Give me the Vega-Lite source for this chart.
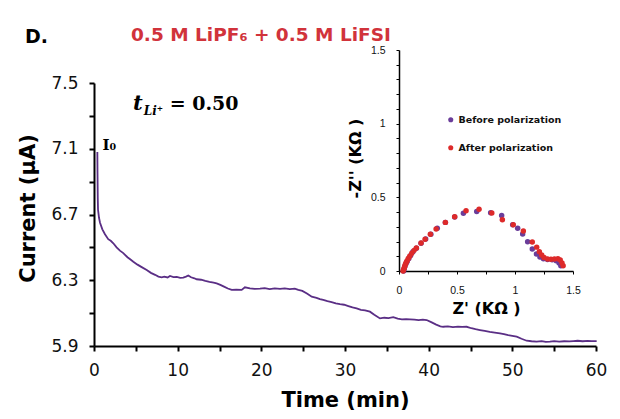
{
 "$schema": "https://vega.github.io/schema/vega-lite/v6.json",
 "width": 502, "height": 263,
 "autosize": "none",
 "padding": {"left": 94, "top": 83, "right": 24, "bottom": 73},
 "background": "white",
 "config": {"view": {"stroke": null}, "axis": {"grid": false, "domainColor": "#000", "tickColor": "#000", "labelColor": "#111", "titleColor": "#000", "labelFlush": false, "labelOverlap": false}},
 "title": {"text": "0.5 M LiPF₆ + 0.5 M LiFSI", "anchor": "start", "frame": "group", "dx": 37, "offset": -31, "color": "#d1333b", "font": "DejaVu Sans", "fontSize": 18.5, "fontWeight": "bold", "baseline": "alphabetic"},
 "datasets": {
  "current": [
   {"time":0.40,"current":7.08},{"time":0.42,"current":6.95},{"time":0.45,"current":6.80},{"time":0.48,"current":6.73},{"time":0.6,"current":6.68},{"time":0.72,"current":6.65},{"time":1.0,"current":6.61},{"time":1.31,"current":6.58},{"time":1.7,"current":6.55},{"time":2.0,"current":6.54},{"time":2.31,"current":6.525},{"time":2.7,"current":6.50},{"time":3.1,"current":6.48},{"time":3.5,"current":6.465},{"time":4.0,"current":6.44},{"time":4.4,"current":6.425},{"time":4.7,"current":6.413},{"time":5.2,"current":6.395},{"time":5.7,"current":6.38},{"time":6.3,"current":6.362},{"time":6.8,"current":6.345},{"time":7.3,"current":6.333},{"time":7.7,"current":6.322},{"time":8.09,"current":6.318},{"time":8.4,"current":6.322},{"time":8.8,"current":6.317},{"time":9.08,"current":6.326},{"time":9.5,"current":6.319},{"time":9.9,"current":6.321},{"time":10.3,"current":6.315},{"time":10.67,"current":6.316},{"time":11.0,"current":6.322},{"time":11.27,"current":6.329},{"time":11.6,"current":6.318},{"time":12.0,"current":6.312},{"time":12.27,"current":6.306},{"time":12.8,"current":6.303},{"time":13.3,"current":6.296},{"time":13.8,"current":6.29},{"time":14.3,"current":6.285},{"time":14.66,"current":6.281},{"time":15.1,"current":6.272},{"time":15.6,"current":6.26},{"time":16.0,"current":6.25},{"time":16.46,"current":6.241},{"time":17.0,"current":6.243},{"time":17.65,"current":6.241},{"time":18.04,"current":6.257},{"time":18.64,"current":6.251},{"time":19.2,"current":6.248},{"time":19.84,"current":6.249},{"time":20.4,"current":6.252},{"time":21.0,"current":6.246},{"time":21.6,"current":6.25},{"time":22.23,"current":6.247},{"time":22.8,"current":6.25},{"time":23.4,"current":6.246},{"time":24.0,"current":6.249},{"time":24.42,"current":6.241},{"time":24.9,"current":6.235},{"time":25.5,"current":6.218},{"time":26.02,"current":6.2},{"time":26.6,"current":6.193},{"time":27.0,"current":6.185},{"time":27.4,"current":6.18},{"time":27.9,"current":6.173},{"time":28.4,"current":6.167},{"time":28.9,"current":6.16},{"time":29.4,"current":6.155},{"time":29.9,"current":6.151},{"time":30.4,"current":6.143},{"time":30.9,"current":6.135},{"time":31.39,"current":6.129},{"time":31.9,"current":6.12},{"time":32.4,"current":6.117},{"time":32.98,"current":6.109},{"time":33.5,"current":6.09},{"time":34.18,"current":6.068},{"time":34.7,"current":6.072},{"time":35.2,"current":6.07},{"time":35.77,"current":6.075},{"time":36.3,"current":6.066},{"time":36.8,"current":6.062},{"time":37.3,"current":6.064},{"time":37.76,"current":6.062},{"time":38.3,"current":6.06},{"time":38.8,"current":6.058},{"time":39.3,"current":6.06},{"time":39.76,"current":6.058},{"time":40.3,"current":6.045},{"time":40.9,"current":6.03},{"time":41.4,"current":6.02},{"time":41.74,"current":6.017},{"time":42.3,"current":6.019},{"time":42.9,"current":6.015},{"time":43.5,"current":6.018},{"time":44.0,"current":6.016},{"time":44.54,"current":6.017},{"time":45.1,"current":6.008},{"time":45.6,"current":6.002},{"time":46.13,"current":5.997},{"time":46.7,"current":5.992},{"time":47.3,"current":5.986},{"time":47.9,"current":5.982},{"time":48.52,"current":5.977},{"time":49.0,"current":5.972},{"time":49.5,"current":5.966},{"time":50.0,"current":5.962},{"time":50.52,"current":5.957},{"time":51.1,"current":5.944},{"time":51.71,"current":5.932},{"time":52.3,"current":5.929},{"time":52.9,"current":5.927},{"time":53.5,"current":5.93},{"time":54.0,"current":5.925},{"time":54.5,"current":5.926},{"time":55.0,"current":5.93},{"time":55.6,"current":5.927},{"time":56.2,"current":5.929},{"time":56.8,"current":5.928},{"time":57.29,"current":5.93},{"time":57.8,"current":5.932},{"time":58.4,"current":5.929},{"time":59.0,"current":5.931},{"time":59.5,"current":5.93},{"time":60.08,"current":5.93}
  ],
  "eis": [
   {"zr":0.04,"zi":0.0,"series":"Before polarization"},{"zr":0.045,"zi":0.015,"series":"Before polarization"},{"zr":0.05,"zi":0.03,"series":"Before polarization"},{"zr":0.06,"zi":0.05,"series":"Before polarization"},{"zr":0.07,"zi":0.065,"series":"Before polarization"},{"zr":0.085,"zi":0.085,"series":"Before polarization"},{"zr":0.10,"zi":0.105,"series":"Before polarization"},{"zr":0.12,"zi":0.13,"series":"Before polarization"},{"zr":0.15,"zi":0.155,"series":"Before polarization"},{"zr":0.19,"zi":0.188,"series":"Before polarization"},{"zr":0.23,"zi":0.217,"series":"Before polarization"},{"zr":0.275,"zi":0.25,"series":"Before polarization"},{"zr":0.33,"zi":0.29,"series":"Before polarization"},{"zr":0.40,"zi":0.33,"series":"Before polarization"},{"zr":0.48,"zi":0.366,"series":"Before polarization"},{"zr":0.555,"zi":0.392,"series":"Before polarization"},{"zr":0.67,"zi":0.404,"series":"Before polarization"},{"zr":0.79,"zi":0.396,"series":"Before polarization"},{"zr":0.885,"zi":0.376,"series":"Before polarization"},{"zr":0.98,"zi":0.314,"series":"Before polarization"},{"zr":1.023,"zi":0.29,"series":"Before polarization"},{"zr":1.066,"zi":0.251,"series":"Before polarization"},{"zr":1.109,"zi":0.199,"series":"Before polarization"},{"zr":1.149,"zi":0.149,"series":"Before polarization"},{"zr":1.185,"zi":0.115,"series":"Before polarization"},{"zr":1.215,"zi":0.095,"series":"Before polarization"},{"zr":1.245,"zi":0.083,"series":"Before polarization"},{"zr":1.28,"zi":0.078,"series":"Before polarization"},{"zr":1.32,"zi":0.076,"series":"Before polarization"},{"zr":1.355,"zi":0.07,"series":"Before polarization"},{"zr":1.38,"zi":0.055,"series":"Before polarization"},{"zr":1.395,"zi":0.035,"series":"Before polarization"},
   {"zr":0.035,"zi":0.0,"series":"After polarization"},{"zr":0.04,"zi":0.01,"series":"After polarization"},{"zr":0.045,"zi":0.02,"series":"After polarization"},{"zr":0.05,"zi":0.032,"series":"After polarization"},{"zr":0.055,"zi":0.045,"series":"After polarization"},{"zr":0.062,"zi":0.057,"series":"After polarization"},{"zr":0.07,"zi":0.07,"series":"After polarization"},{"zr":0.08,"zi":0.085,"series":"After polarization"},{"zr":0.092,"zi":0.1,"series":"After polarization"},{"zr":0.11,"zi":0.12,"series":"After polarization"},{"zr":0.13,"zi":0.14,"series":"After polarization"},{"zr":0.15,"zi":0.156,"series":"After polarization"},{"zr":0.19,"zi":0.19,"series":"After polarization"},{"zr":0.225,"zi":0.215,"series":"After polarization"},{"zr":0.27,"zi":0.25,"series":"After polarization"},{"zr":0.32,"zi":0.285,"series":"After polarization"},{"zr":0.40,"zi":0.33,"series":"After polarization"},{"zr":0.48,"zi":0.368,"series":"After polarization"},{"zr":0.578,"zi":0.409,"series":"After polarization"},{"zr":0.69,"zi":0.419,"series":"After polarization"},{"zr":0.80,"zi":0.394,"series":"After polarization"},{"zr":0.891,"zi":0.348,"series":"After polarization"},{"zr":0.985,"zi":0.314,"series":"After polarization"},{"zr":1.072,"zi":0.272,"series":"After polarization"},{"zr":1.149,"zi":0.197,"series":"After polarization"},{"zr":1.187,"zi":0.162,"series":"After polarization"},{"zr":1.21,"zi":0.13,"series":"After polarization"},{"zr":1.23,"zi":0.108,"series":"After polarization"},{"zr":1.25,"zi":0.092,"series":"After polarization"},{"zr":1.28,"zi":0.082,"series":"After polarization"},{"zr":1.31,"zi":0.079,"series":"After polarization"},{"zr":1.34,"zi":0.082,"series":"After polarization"},{"zr":1.37,"zi":0.083,"series":"After polarization"},{"zr":1.39,"zi":0.075,"series":"After polarization"},{"zr":1.405,"zi":0.055,"series":"After polarization"},{"zr":1.415,"zi":0.035,"series":"After polarization"}
  ]
 },
 "layer": [
  {
   "encoding": {
    "x": {"field": "time", "type": "quantitative", "scale": {"domain": [0, 60], "nice": false, "zero": false},
      "axis": {"orient": "bottom", "values": [0,5,10,15,20,25,30,35,40,45,50,55,60], "labelExpr": "datum.value % 10 === 0 ? datum.label : ''", "title": "Time (min)", "titleFont": "DejaVu Sans", "titleFontSize": 21, "titleFontWeight": "bold", "titleBaseline": "alphabetic", "titleY": 60, "labelFont": "DejaVu Sans", "labelFontSize": 17, "labelPadding": 11, "tickSize": 5, "tickWidth": 2, "domainWidth": 2}},
    "y": {"field": "current", "type": "quantitative", "scale": {"domain": [5.9, 7.5], "nice": false, "zero": false},
      "axis": {"orient": "left", "values": [5.9,6.1,6.3,6.5,6.7,6.9,7.1,7.3,7.5], "format": ".1f", "labelExpr": "indexof(['5.9','6.3','6.7','7.1','7.5'], datum.label) >= 0 ? datum.label : ''", "title": "Current (µA)", "titleFont": "DejaVu Sans", "titleFontSize": 21, "titleFontWeight": "bold", "titleBaseline": "alphabetic", "titleX": -60, "titleY": 125, "labelFont": "DejaVu Sans", "labelFontSize": 17, "labelPadding": 11, "tickSize": 5, "tickWidth": 2, "domainWidth": 2}}
   },
   "layer": [
    {"data": {"name": "current"}, "mark": {"type": "line", "color": "#5a2e85", "strokeWidth": 1.8}},
    {"data": {"values": [{"time": -8.25, "current": 7.743, "label": "D."}]}, "mark": {"type": "text", "align": "left", "baseline": "alphabetic", "font": "DejaVu Sans", "fontWeight": "bold", "fontSize": 19, "color": "#000"}, "encoding": {"text": {"field": "label"}}},
    {"data": {"values": [{"time": 4.66, "current": 7.335, "label": "t"}]}, "mark": {"type": "text", "align": "left", "baseline": "alphabetic", "font": "DejaVu Serif", "fontWeight": "bold", "fontStyle": "italic", "fontSize": 21, "color": "#000"}, "encoding": {"text": {"field": "label"}}},
    {"data": {"values": [{"time": 5.95, "current": 7.305, "label": "Li⁺"}]}, "mark": {"type": "text", "align": "left", "baseline": "alphabetic", "font": "DejaVu Serif", "fontWeight": "bold", "fontStyle": "italic", "fontSize": 12, "color": "#000"}, "encoding": {"text": {"field": "label"}}},
    {"data": {"values": [{"time": 9.05, "current": 7.335, "label": "= 0.50"}]}, "mark": {"type": "text", "align": "left", "baseline": "alphabetic", "font": "DejaVu Serif", "fontWeight": "bold", "fontSize": 19, "color": "#000"}, "encoding": {"text": {"field": "label"}}},
    {"data": {"values": [{"time": 1.02, "current": 7.095, "label": "I₀"}]}, "mark": {"type": "text", "align": "left", "baseline": "alphabetic", "font": "DejaVu Serif", "fontWeight": "bold", "fontSize": 15, "color": "#000"}, "encoding": {"text": {"field": "label"}}}
   ]
  },
  {
   "data": {"name": "eis"},
   "mark": {"type": "point", "filled": true, "size": 30, "opacity": 1},
   "encoding": {
    "x": {"field": "zr", "type": "quantitative", "scale": {"domain": [0, 1.5], "range": [305, 479], "nice": false, "zero": false},
      "axis": {"orient": "bottom", "offset": -75, "values": [0,0.25,0.5,0.75,1,1.25,1.5], "format": ".2f", "labelExpr": "datum.label == '0.00' ? '0' : datum.label == '0.50' ? '0.5' : datum.label == '1.00' ? '1' : datum.label == '1.50' ? '1.5' : ''", "title": "Z' (KΩ )", "titleFont": "DejaVu Sans", "titleFontSize": 16, "titleFontWeight": "bold", "titleBaseline": "alphabetic", "titleY": 42, "labelFont": "Liberation Sans", "labelFontSize": 10.5, "labelPadding": 11, "tickSize": 3, "tickWidth": 1, "domainWidth": 1.5}},
    "y": {"field": "zi", "type": "quantitative", "scale": {"domain": [0, 1.5], "range": [188, -33], "nice": false, "zero": false},
      "axis": {"orient": "left", "offset": -305, "values": [0,0.1,0.2,0.3,0.4,0.5,0.6,0.7,0.8,0.9,1,1.1,1.2,1.3,1.4,1.5], "format": ".1f", "labelExpr": "datum.label == '0.0' ? '0' : datum.label == '0.5' ? '0.5' : datum.label == '1.0' ? '1' : datum.label == '1.5' ? '1.5' : ''", "title": "-Z'' (KΩ )", "titleFont": "DejaVu Sans", "titleFontSize": 16, "titleFontWeight": "bold", "titleBaseline": "alphabetic", "titleX": -39, "titleY": 75, "labelFont": "Liberation Sans", "labelFontSize": 10.5, "labelPadding": 11, "tickSize": 3, "tickWidth": 1, "domainWidth": 1.5}},
    "color": {"field": "series", "type": "nominal", "scale": {"domain": ["Before polarization", "After polarization"], "range": ["#6a3d9a", "#dd2a2a"]},
      "legend": {"orient": "none", "legendX": 352, "legendY": 32, "title": null, "padding": 0, "labelFont": "DejaVu Sans", "labelFontWeight": "bold", "labelFontSize": 9.5, "labelColor": "#111", "symbolType": "circle", "symbolSize": 26, "rowPadding": 17, "labelOffset": 3}}
   }
  }
 ],
 "resolve": {"scale": {"x": "independent", "y": "independent", "color": "independent"}}
}
